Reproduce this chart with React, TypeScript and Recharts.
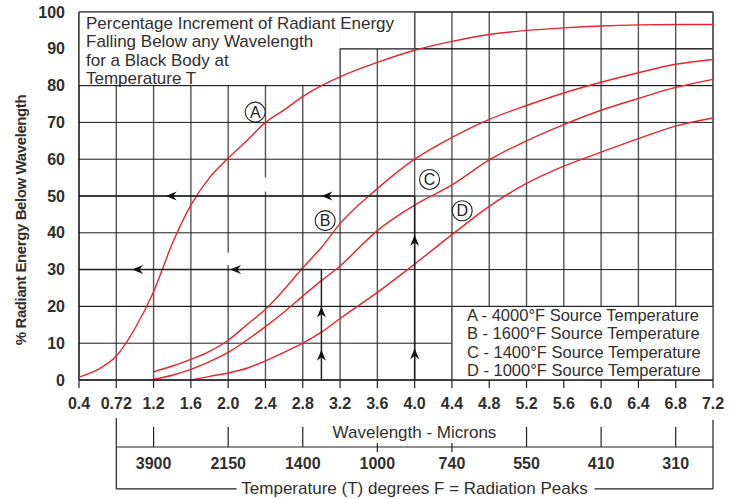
import React from "react";
import {
  LineChart,
  Line,
  XAxis,
  YAxis,
  CartesianGrid,
  ReferenceArea,
  ReferenceLine,
  ReferenceDot,
} from "recharts";

// wavelength in microns (axis position; the 0.8 gridline is labelled 0.72)
const wavelengths = [
  0.4, 0.6, 0.8, 1.0, 1.2, 1.4, 1.6, 1.8, 2.0, 2.2, 2.4, 2.6, 2.8, 3.0, 3.2,
  3.6, 4.0, 4.4, 4.8, 5.2, 5.6, 6.0, 6.4, 6.8, 7.2,
];
// % radiant energy below wavelength, one list per source temperature
const curveA = [
  0.8, 2.8, 6.5, 14, 24, 37, 47.5, 55, 60.3, 65, 70, 73.4, 77, 80, 82.4, 86.3,
  89.6, 92, 93.9, 95, 95.7, 96.2, 96.5, 96.6, 96.6,
];
const curveB = [
  null, null, null, null, 2.2, 3.8, 5.6, 7.8, 10.8, 15, 19.2, 24.6, 30.5, 36,
  42.5, 52, 60, 65.9, 70.8, 74.6, 78, 80.9, 83.5, 85.8, 87.1,
];
const curveC = [
  null, null, null, null, 0.2, 1.3, 2.9, 5, 7.5, 10.8, 14.5, 18.5, 22.8, 27,
  31, 40.6, 47.5, 53, 59.8, 65, 69.4, 73.3, 76.5, 79.5, 81.7,
];
const curveD = [
  null, null, null, null, null, null, 0, 1.0, 1.9, 3.2, 5.2, 7.5, 10, 13,
  16.7, 23.8, 31.5, 39.5, 47.2, 53.4, 58.1, 61.9, 65.6, 69, 71.2,
];

const xTicks = [
  0.4, 0.8, 1.2, 1.6, 2.0, 2.4, 2.8, 3.2, 3.6, 4.0, 4.4, 4.8, 5.2, 5.6, 6.0,
  6.4, 6.8, 7.2,
];
const xTickLabels = [
  "0.4", "0.72", "1.2", "1.6", "2.0", "2.4", "2.8", "3.2", "3.6", "4.0",
  "4.4", "4.8", "5.2", "5.6", "6.0", "6.4", "6.8", "7.2",
];
const yTicks = [0, 10, 20, 30, 40, 50, 60, 70, 80, 90, 100];

// radiation peak temperatures on the second scale
const tempTicks = [1.2, 2.0, 2.8, 3.6, 4.4, 5.2, 6.0, 6.8];
const tempLabels = ["3900", "2150", "1400", "1000", "740", "550", "410", "310"];
const shortTempTicks = [3.6, 4.4];

const seriesKeys = ["A", "B", "C", "D"];
const sourceTemps = [4000, 1600, 1400, 1000];

const titleLines = [
  "Percentage Increment of Radiant Energy",
  "Falling Below any Wavelength",
  "for a Black Body at",
  "Temperature T",
];

const curveMarkers = [
  { key: "A", x: 2.29, y: 72.8 },
  { key: "B", x: 3.04, y: 43.3 },
  { key: "C", x: 4.16, y: 54.5 },
  { key: "D", x: 4.51, y: 46 },
];

const arrowHeads = [
  { x: 1.33, y: 50, dir: "left" },
  { x: 3.0, y: 50, dir: "left" },
  { x: 0.97, y: 30, dir: "left" },
  { x: 2.02, y: 30, dir: "left" },
  { x: 3.0, y: 20, dir: "up" },
  { x: 3.0, y: 8.2, dir: "up" },
  { x: 4.0, y: 39.4, dir: "up" },
  { x: 4.0, y: 8.6, dir: "up" },
];

// short breaks in two gridlines of the original drawing
const gridBreaks = [
  { x: 2.4, from: 51.2, to: 55 },
  { x: 2.0, from: 31.2, to: 34.6 },
];

const data = wavelengths.map((w, i) => ({
  w,
  A: curveA[i],
  B: curveB[i],
  C: curveC[i],
  D: curveD[i],
}));

const FONT = "'Liberation Sans', Arial, sans-serif";
const TEXT = "#2f2f2f";
const RED = "#e3262e";
const GRID_H = "#1a1a1a";
const GRID_V = "#555";
const INK = "#222";

const seg = (x1: number, y1: number, x2: number, y2: number) => [
  { x: x1, y: y1 },
  { x: x2, y: y2 },
];

function ArrowHead({ cx, cy, dir }: { cx: number; cy: number; dir: string }) {
  const d =
    dir === "left"
      ? `M${cx},${cy} L${cx + 11},${cy - 4.5} L${cx + 7.5},${cy} L${cx + 11},${cy + 4.5} Z`
      : `M${cx},${cy} L${cx - 4.5},${cy + 11} L${cx},${cy + 7.5} L${cx + 4.5},${cy + 11} Z`;
  return <path d={d} fill="#111" stroke="none" />;
}

function TempTick(props: any) {
  const { x, y, payload, index } = props;
  const short = shortTempTicks.includes(payload.value);
  return (
    <g>
      <line
        x1={x}
        x2={x}
        y1={short ? y - 4 : y - 20}
        y2={short ? y + 5 : y}
        stroke="#222"
        strokeWidth={1.2}
      />
      <text
        x={x}
        y={y + 22}
        textAnchor="middle"
        fontSize={16}
        fontWeight={700}
        fill={TEXT}
        fontFamily={FONT}
      >
        {tempLabels[index]}
      </text>
    </g>
  );
}

function TitleBox(props: any) {
  const vb = props.viewBox;
  return (
    <g>
      {titleLines.map((line, i) => (
        <text
          key={line}
          x={vb.x + 7}
          y={vb.y + 16.5 + i * 18.6}
          fontSize={17}
          fill={TEXT}
          fontFamily={FONT}
        >
          {line}
        </text>
      ))}
    </g>
  );
}

function LegendBox(props: any) {
  const vb = props.viewBox;
  const bottom = vb.y + vb.height;
  return (
    <g>
      {seriesKeys.map((k, i) => (
        <text
          key={k}
          x={vb.x + 15}
          y={bottom - 4 - (seriesKeys.length - 1 - i) * 18.3}
          fontSize={16.5}
          fill={TEXT}
          fontFamily={FONT}
        >
          {`${k} - ${sourceTemps[i]}°F Source Temperature`}
        </text>
      ))}
    </g>
  );
}

function YTitle(props: any) {
  const vb = props.viewBox;
  const cx = vb.x + 20;
  const cy = vb.y + vb.height / 2 + 24;
  return (
    <text
      x={cx}
      y={cy}
      transform={`rotate(-90, ${cx}, ${cy})`}
      textAnchor="middle"
      dominantBaseline="central"
      fontSize={15}
      fontWeight={700}
      letterSpacing={-0.4}
      fill={TEXT}
      fontFamily={FONT}
    >
      % Radiant Energy Below Wavelength
    </text>
  );
}

function WavelengthTitle(props: any) {
  const vb = props.viewBox;
  return (
    <text
      x={vb.x + vb.width / 2 + 18.5}
      y={vb.y + vb.height - 9}
      textAnchor="middle"
      fontSize={17}
      fill={TEXT}
      fontFamily={FONT}
    >
      Wavelength - Microns
    </text>
  );
}

function TempTitle(props: any) {
  const vb = props.viewBox;
  return (
    <text
      x={vb.x + vb.width / 2 + 18.5}
      y={vb.y + vb.height - 5}
      textAnchor="middle"
      fontSize={17}
      fill={TEXT}
      fontFamily={FONT}
    >
      Temperature (T) degrees F = Radiation Peaks
    </text>
  );
}

export default function App() {
  return (
    <div
      style={{
        position: "absolute",
        left: 0,
        top: 0,
        width: 734,
        height: 499,
        background: "#fff",
      }}
    >
      <LineChart
        width={734}
        height={499}
        data={data}
        margin={{ top: 12, right: 21, bottom: 0, left: 0 }}
      >
        <CartesianGrid horizontal={false} stroke={GRID_V} strokeWidth={1.4} />
        <CartesianGrid vertical={false} stroke={GRID_H} strokeWidth={1} />

        {gridBreaks.map((g) => (
          <ReferenceLine
            key={g.x}
            segment={seg(g.x, g.from, g.x, g.to)}
            stroke="#fff"
            strokeWidth={3}
          />
        ))}

        {/* white boxes for the title and the legend */}
        <ReferenceArea
          x1={3.2}
          x2={4.0}
          y1={90}
          y2={100}
          fill="#fff"
          fillOpacity={1}
          strokeWidth={0}
        />
        <ReferenceArea
          x1={0.4}
          x2={3.2}
          y1={80}
          y2={100}
          fill="#fff"
          fillOpacity={1}
          strokeWidth={0}
          label={(p: any) => <TitleBox {...p} />}
        />
        <ReferenceArea
          x1={4.4}
          x2={7.2}
          y1={0}
          y2={20}
          fill="#fff"
          fillOpacity={1}
          strokeWidth={0}
          label={(p: any) => <LegendBox {...p} />}
        />

        {/* box edges that the white fills cut */}
        <ReferenceLine y={100} stroke={GRID_H} strokeWidth={1.2} />
        <ReferenceLine y={80} stroke={GRID_H} />
        <ReferenceLine y={20} stroke={GRID_H} />
        <ReferenceLine segment={seg(3.2, 90, 7.2, 90)} stroke={GRID_H} />
        <ReferenceLine segment={seg(3.2, 80, 3.2, 90)} stroke={GRID_V} strokeWidth={1.4} />
        <ReferenceLine segment={seg(4.0, 90, 4.0, 100)} stroke={GRID_V} strokeWidth={1.4} />
        <ReferenceLine segment={seg(4.4, 0, 4.4, 20)} stroke={GRID_V} strokeWidth={1.4} />
        <ReferenceLine x={7.2} stroke={GRID_V} strokeWidth={1.4} />
        <ReferenceLine x={0.4} stroke={GRID_H} strokeWidth={1.2} />

        {seriesKeys.map((k) => (
          <Line
            key={k}
            dataKey={k}
            type="monotone"
            stroke={RED}
            strokeWidth={1.4}
            dot={false}
            activeDot={false}
            isAnimationActive={false}
          />
        ))}

        {/* reading arrows */}
        <ReferenceLine segment={seg(0.4, 50, 4.0, 50)} stroke={INK} strokeWidth={1.5} />
        <ReferenceLine segment={seg(0.4, 30, 3.0, 30)} stroke={INK} strokeWidth={1.5} />
        <ReferenceLine segment={seg(3.0, 0, 3.0, 30)} stroke={INK} strokeWidth={1.5} />
        <ReferenceLine segment={seg(4.0, 0, 4.0, 50)} stroke={INK} strokeWidth={1.5} />
        {arrowHeads.map((a, i) => (
          <ReferenceDot
            key={i}
            x={a.x}
            y={a.y}
            r={6}
            shape={(p: any) => <ArrowHead cx={p.cx} cy={p.cy} dir={a.dir} />}
          />
        ))}

        {curveMarkers.map((m) => (
          <ReferenceDot
            key={m.key}
            x={m.x}
            y={m.y}
            r={10}
            fill="#fff"
            stroke="#222"
            strokeWidth={1.1}
            label={{
              value: m.key,
              position: "center",
              fontSize: 16,
              fill: "#222",
              fontFamily: FONT,
            }}
          />
        ))}

        {/* bracket of the second scale, drawn below the plot */}
        <ReferenceLine ifOverflow="visible" segment={seg(0.8, -18.2, 7.2, -18.2)} stroke="#222" strokeWidth={1.2} />
        <ReferenceLine ifOverflow="visible" segment={seg(0.8, -10.3, 0.8, -29.6)} stroke="#222" strokeWidth={1.2} />
        <ReferenceLine ifOverflow="visible" segment={seg(7.2, -10.8, 7.2, -29.6)} stroke="#222" strokeWidth={1.2} />
        <ReferenceLine ifOverflow="visible" segment={seg(0.8, -29.6, 2.09, -29.6)} stroke="#222" strokeWidth={1.2} />
        <ReferenceLine ifOverflow="visible" segment={seg(5.93, -29.6, 7.2, -29.6)} stroke="#222" strokeWidth={1.2} />

        <YAxis
          type="number"
          domain={[0, 100]}
          ticks={yTicks}
          interval={0}
          width={79}
          tickLine={false}
          axisLine={false}
          tickMargin={8}
          tick={{ fontSize: 16, fontWeight: 700, fill: TEXT, fontFamily: FONT }}
          label={(p: any) => <YTitle {...p} />}
        />
        <XAxis
          dataKey="w"
          type="number"
          domain={[0.4, 7.2]}
          ticks={xTicks}
          interval={0}
          tickFormatter={(v: number, i: number) => xTickLabels[i]}
          height={67}
          tickSize={8}
          tickMargin={10}
          tickLine={{ stroke: "#222", strokeWidth: 1.2 }}
          axisLine={{ stroke: "#222", strokeWidth: 1.3 }}
          tick={{ fontSize: 16, fontWeight: 700, fill: TEXT, fontFamily: FONT }}
          label={(p: any) => <WavelengthTitle {...p} />}
        />
        <XAxis
          xAxisId="temp"
          dataKey="w"
          type="number"
          domain={[0.4, 7.2]}
          ticks={tempTicks}
          interval={0}
          height={52}
          tickSize={0}
          tickMargin={0}
          axisLine={false}
          tickLine={false}
          tick={<TempTick />}
          label={(p: any) => <TempTitle {...p} />}
        />
      </LineChart>
    </div>
  );
}
